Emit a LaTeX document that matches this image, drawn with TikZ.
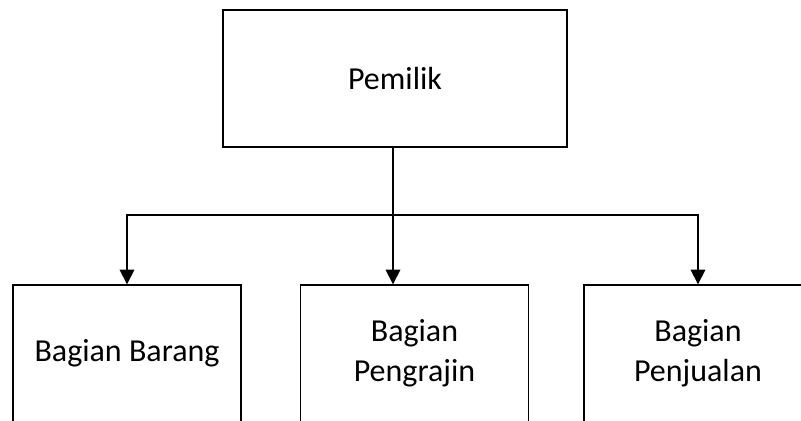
\documentclass[tikz,border=0pt]{standalone}
\usepackage{fontspec}
\setmainfont{Carlito}
\usetikzlibrary{arrows.meta, positioning}
\tikzset{> = { Triangle[length = 11pt, width = 11pt] }}
\tikzset{unit/.style = {draw, line width = 1pt, align = center, inner sep = 0pt,
		minimum width = 171pt, minimum height = 102.75pt,
		font = \fontsize{24}{30}\selectfont}}

\begin{document}
\begin{tikzpicture}[x = 0.75pt, y = -0.75pt, line width = 1pt]
		\useasboundingbox (0, 0) rectangle (801, 421);
		\node [unit, minimum width = 258pt] (pemilik) at (395, 78.5) {Pemilik};
		\node [unit] (barang) at (127, 353.5) {Bagian Barang};
		\node [unit] (pengrajin) at (414.5, 353.5) {Bagian\\Pengrajin};
		\node [unit] (penjualan) at (698, 353.5) {Bagian\\Penjualan};
		\coordinate (split) at (393, 215);

		\draw (pemilik.south -| split) -- (split);
		\draw [->] (split) -| (barang.north);
		\draw [->] (split) -| (penjualan.north);
		\draw [->] (split) -- (split |- pengrajin.north);
	\end{tikzpicture}
\end{document}
